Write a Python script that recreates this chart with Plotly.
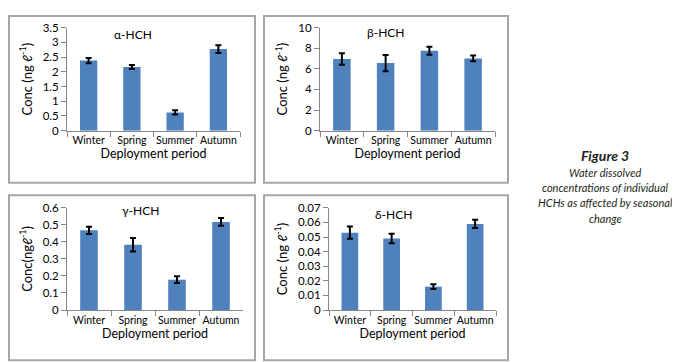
import plotly.graph_objects as go

seasons = ["Winter", "Spring", "Summer", "Autumn"]
alpha = [2.38, 2.16, 0.62, 2.77]
alpha_err = [0.09, 0.07, 0.07, 0.13]
beta = [6.95, 6.55, 7.75, 7.0]
beta_err = [0.55, 0.78, 0.38, 0.28]
gamma = [0.468, 0.383, 0.178, 0.517]
gamma_err = [0.021, 0.040, 0.020, 0.023]
delta = [0.053, 0.049, 0.016, 0.059]
delta_err = [0.0042, 0.0033, 0.0016, 0.0028]

titles = ["α-HCH", "β-HCH", "γ-HCH", "δ-HCH"]
ytitles = ["Conc (ng ℓ<sup>-1</sup>)", "Conc (ng ℓ<sup>-1</sup>)",
           "Conc(ngℓ<sup>-1</sup>)", "Conc (ng ℓ<sup>-1</sup>)"]
yranges = [[0, 3.5], [0, 10], [0, 0.6], [0, 0.07]]
ydticks = [0.5, 2, 0.1, 0.01]
caption = ["<b>Figure 3</b>", "Water dissolved", "concentrations of individual",
           "HCHs as affected by seasonal", "change"]

W, H = 680, 362
FONT = "Lato"
BAR = "#4F81BD"
AXC = "#868686"

# plot-area pixel boxes (left, right, top, bottom)
boxes = [(59, 232, 13, 120), (312, 487, 13, 120), (59, 235, 200, 306), (321, 488, 200, 306)]
# panel frames
frames = [(1, 247, 1, 174), (256, 500, 1, 174), (1, 247, 187, 358), (256, 500, 187, 358)]
title_pos = [(125, 20), (378, 18), (132, 203), (385, 207)]

series = [(alpha, alpha_err), (beta, beta_err), (gamma, gamma_err), (delta, delta_err)]

fig = go.Figure()
layout = dict(
    width=W, height=H, margin=dict(l=0, r=0, t=0, b=0),
    paper_bgcolor="white", plot_bgcolor="white", showlegend=False,
    font=dict(family=FONT, size=12, color="black"),
    bargap=0.6,
)
annotations = []
shapes = []
for i, ((vals, errs), (l, r, t, b)) in enumerate(zip(series, boxes)):
    k = "" if i == 0 else str(i + 1)
    fig.add_trace(go.Bar(
        x=seasons, y=vals, marker=dict(color=BAR, line=dict(width=0)),
        error_y=dict(type="data", array=errs, color="black", thickness=2, width=3),
        xaxis="x" + k, yaxis="y" + k,
    ))
    layout["xaxis" + k] = dict(
        domain=[l / W, r / W], anchor="y" + k,
        showline=True, linecolor=AXC, linewidth=1,
        ticks="outside", ticklen=5, tickcolor=AXC, tickson="boundaries",
        tickfont=dict(size=10.5, family=FONT), tickangle=0,
        title=dict(text="Deployment period", font=dict(size=12.5, family=FONT), standoff=3),
        showgrid=False, zeroline=False,
    )
    layout["yaxis" + k] = dict(
        domain=[1 - b / H, 1 - t / H], anchor="x" + k,
        range=yranges[i], dtick=ydticks[i], tick0=0,
        showline=True, linecolor=AXC, linewidth=1,
        ticks="outside", ticklen=5, tickcolor=AXC,
        tickfont=dict(size=11.5, family=FONT),
        title=dict(text=ytitles[i], font=dict(size=13, family=FONT), standoff=7),
        showgrid=False, zeroline=False,
    )
    tx, ty = title_pos[i]
    annotations.append(dict(
        text=titles[i], x=tx / W, y=1 - ty / H, xref="paper", yref="paper",
        showarrow=False, font=dict(size=12, family=FONT), xanchor="center", yanchor="middle",
    ))
    fl, fr, ft, fb = frames[i]
    shapes.append(dict(type="rect", xref="paper", yref="paper",
                       x0=fl / W, x1=fr / W, y0=1 - fb / H, y1=1 - ft / H,
                       line=dict(color="#A6A6A6", width=2), fillcolor="rgba(0,0,0,0)"))

cap_y = [146, 163, 179, 195, 211]
for txt, cy in zip(caption, cap_y):
    annotations.append(dict(
        text="<i>" + txt + "</i>", x=597 / W, y=1 - cy / H, xref="paper", yref="paper",
        showarrow=False,
        font=dict(size=14 if "Figure" in txt else 11, family="Lato", color="#231F20"),
        xanchor="center", yanchor="middle",
    ))

layout["annotations"] = annotations
layout["shapes"] = shapes
fig.update_layout(**layout)
fig.write_html("out.html")
